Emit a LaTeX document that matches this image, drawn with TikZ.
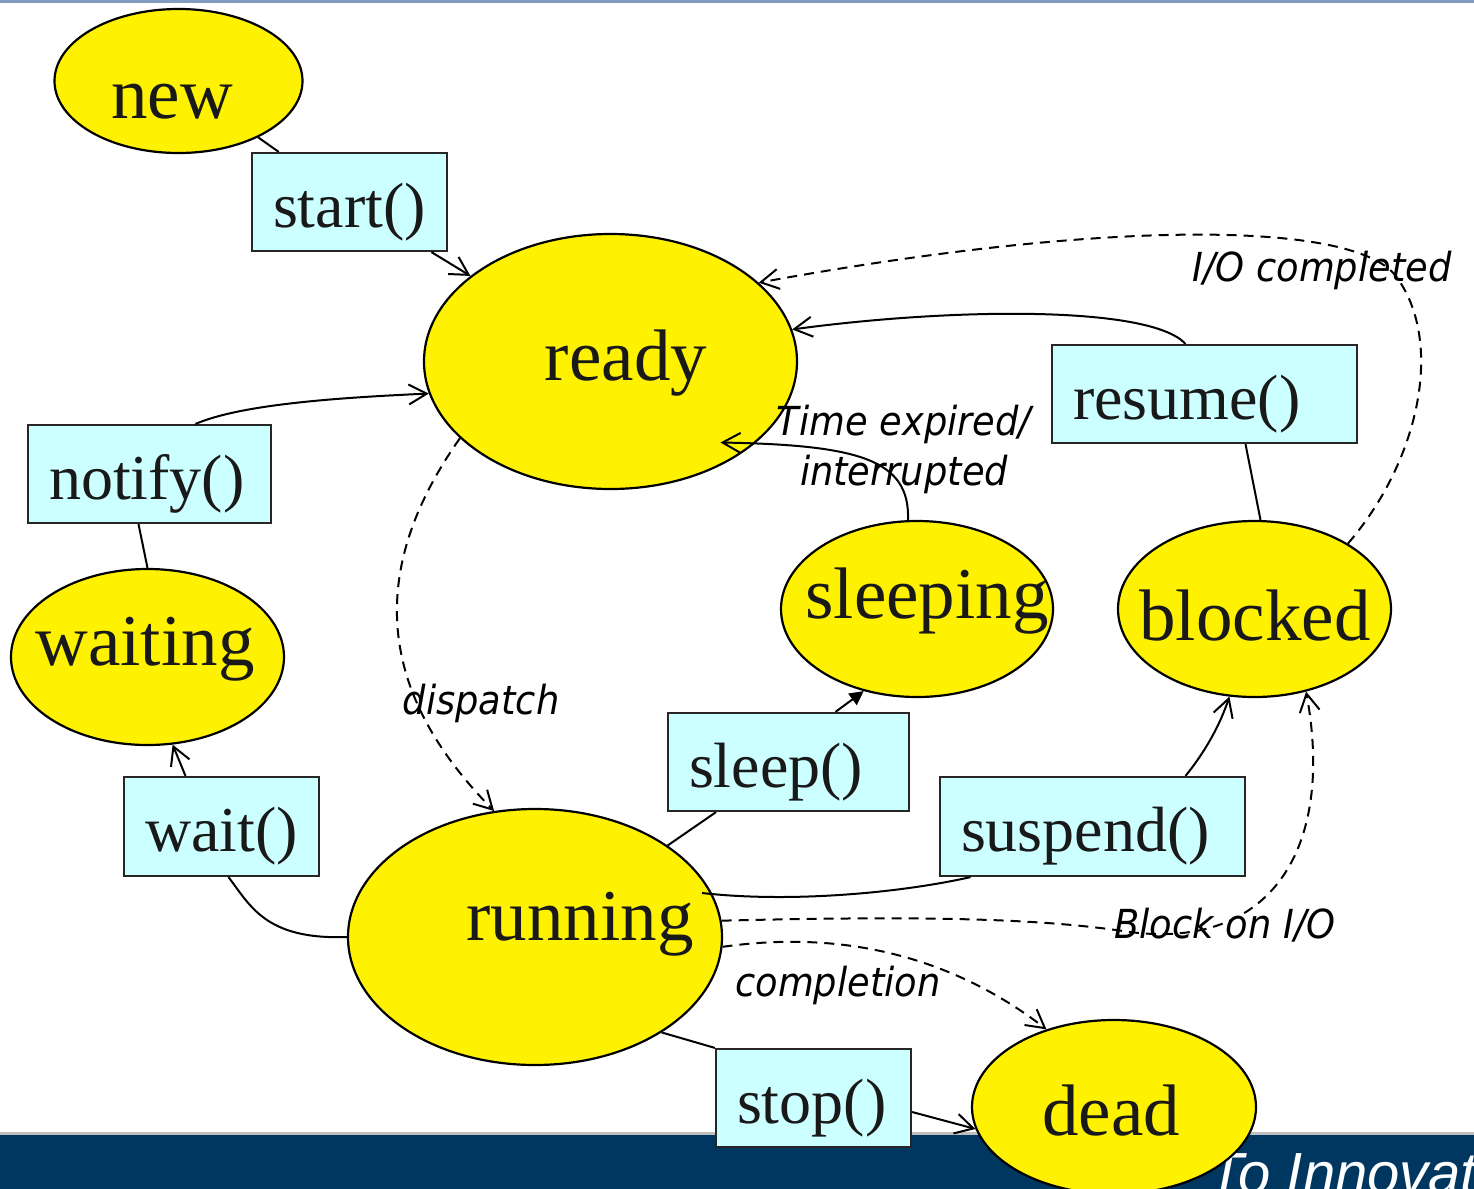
\documentclass[tikz,border=0pt]{standalone}
\usepackage{fontspec}
\setmainfont{Liberation Serif}
\newfontfamily\lblfamily[FakeStretch=0.92]{DejaVu Sans}
\newfontfamily\banfamily{Liberation Sans}
\usetikzlibrary{shapes.geometric,arrows.meta,calc}
\definecolor{boxcyan}{RGB}{204,255,255}
\definecolor{navy}{RGB}{0,55,96}
\definecolor{topline}{RGB}{130,155,190}
\tikzset{
 state/.style={ellipse, draw=black, fill=yellow, line width=1.1pt, inner sep=0pt},
 sttext/.style={font=\fontsize{36.5}{40}\selectfont, anchor=base, inner sep=0pt, text=black!90},
 op/.style={rectangle, draw=black!85, fill=boxcyan, line width=1.1pt, inner xsep=10.5pt, inner ysep=0pt, align=left, minimum height=49pt, text height=31pt, text depth=5.7pt, font=\fontsize{32}{36}\selectfont, text=black!90},
 lbl/.style={font=\lblfamily\itshape\fontsize{20}{25}\selectfont, inner sep=0pt, align=center},
 conn/.style={line width=1pt},
 arr/.style={-{Straight Barb[length=9pt,width=10pt]}},
 dsh/.style={dash pattern=on 5pt off 3.5pt},
}
\begin{document}
\begin{tikzpicture}[x=0.5pt,y=-0.5pt]
\useasboundingbox (0,0) rectangle (1474,1189);
\clip (0,0) rectangle (1474,1189);
\fill[white] (0,0) rectangle (1474,1189);
% frame decorations
\fill[topline] (0,0) rectangle (1474,3);
\fill[black!25] (0,1132) rectangle (1474,1135.5);
\fill[navy] (0,1135) rectangle (1474,1189);
\node[font=\banfamily\itshape\fontsize{29}{30}\selectfont, text=white, anchor=base west, inner sep=0pt] (slogan) at (1208,1193) {To Innovat};

% states
\node[state, minimum width=124pt, minimum height=72pt] (new) at (178.5,81) {};
\node[state, minimum width=186.5pt, minimum height=127.5pt] (ready) at (610.5,361.5) {};
\node[state, minimum width=136.5pt, minimum height=88pt] (waiting) at (147.5,657) {};
\node[state, minimum width=187pt, minimum height=128pt] (running) at (535,937) {};
\node[state, minimum width=136pt, minimum height=88pt] (sleeping) at (917,609) {};
\node[state, minimum width=136.5pt, minimum height=88pt] (blocked) at (1254.5,609) {};
\node[state, minimum width=142pt, minimum height=87pt] (dead) at (1114,1107) {};

\node[sttext] (tnew) at (172,118) {new};
\node[sttext] (tready) at (626,380) {ready};
\node[sttext] (twaiting) at (145,665) {waiting};
\node[sttext] (trunning) at (580,940) {running};
\node[sttext] (tsleeping) at (927,618) {sleeping};
\node[sttext] (tblocked) at (1255,640) {blocked};
\node[sttext] (tdead) at (1111,1135) {dead};

% operations
\node[op, text width=76.5pt] (start) at (349.5,202) {start()};
\node[op, text width=100.5pt] (notify) at (149.5,474) {notify()};
\node[op, text width=76.5pt, minimum height=49.5pt] (wait) at (221.5,826.5) {wait()};
\node[op, text width=99.5pt] (sleep) at (788.5,762) {sleep()};
\node[op, text width=131.5pt] (resume) at (1204.5,394) {resume()};
\node[op, text width=131.5pt, minimum height=49.5pt] (suspend) at (1092.5,826.5) {suspend()};
\node[op, text width=76.5pt] (stop) at (813.5,1098) {stop()};

% connectors
\draw[conn] (new) -- (start);
\draw[conn,arr] (start) -- (ready);
\draw[conn,arr] ($(notify.north)+(46,0)$) .. controls (240,405) and (330,398) .. (ready.190);
\draw[conn] (waiting.north) -- ($(notify.south)+(-11,0)$);
\draw[conn,arr] ($(wait.north)+(-36,0)$) -- (waiting.-74);
\draw[conn] (running.west) .. controls (265,940) and (250,905) .. ($(wait.south)+(7,0)$);
\draw[conn,dsh,arr] (ready.207) .. controls (360,580) and (385,700) .. (running.108);
\draw[conn] (running) -- (sleep);
\draw[conn,-{Triangle[length=7pt,width=7pt]}] ($(sleep.north)+(47,0)$) -- (sleeping.237);
\draw[conn,arr] ($(sleeping.north)+(-9,0)$) .. controls (910,460) and (860,445) .. ($(ready)+(110,81)$);
\draw[conn,arr] ($(resume.north)+(-19,0)$) .. controls (1150,305) and (950,308) .. (ready.10);
\draw[conn] ($(blocked.north)+(6,0)$) -- ($(resume.south)+(41,0)$);
\draw[conn,dsh,arr] (blocked.35) .. controls (1420,460) and (1445,340) .. (1395,275) .. controls (1350,220) and (1100,220) .. (ready.28);
\draw[conn] ($(running)+(167,-44)$) .. controls (790,903) and (900,893) .. ($(suspend.south)+(-122,0)$);
\draw[conn,arr] ($(suspend.north)+(93,0)$) .. controls (1205,752) and (1220,725) .. (blocked.254);
\draw[conn,dsh,arr] (running.5) .. controls (950,915) and (1050,920) .. (1130,932) .. controls (1270,950) and (1335,850) .. (blocked.-58);
\draw[conn,dsh,arr] (running.-3) .. controls (840,930) and (950,955) .. (dead.131);
\draw[conn] (running.-37) -- (stop.north west);
\draw[conn,arr] ($(stop.east)+(0,14)$) -- (dead.189);

% labels
\node[lbl] (ldispatch) at (481,703) {dispatch};
\node[lbl] (lcompletion) at (838,985) {completion};
\node[lbl] (lblock) at (1225,925) {Block on I/O};
\node[lbl] (lio) at (1322,270) {I/O completed};
\node[lbl] (ltime) at (904,449) {Time expired/\\interrupted};
\end{tikzpicture}
\end{document}
